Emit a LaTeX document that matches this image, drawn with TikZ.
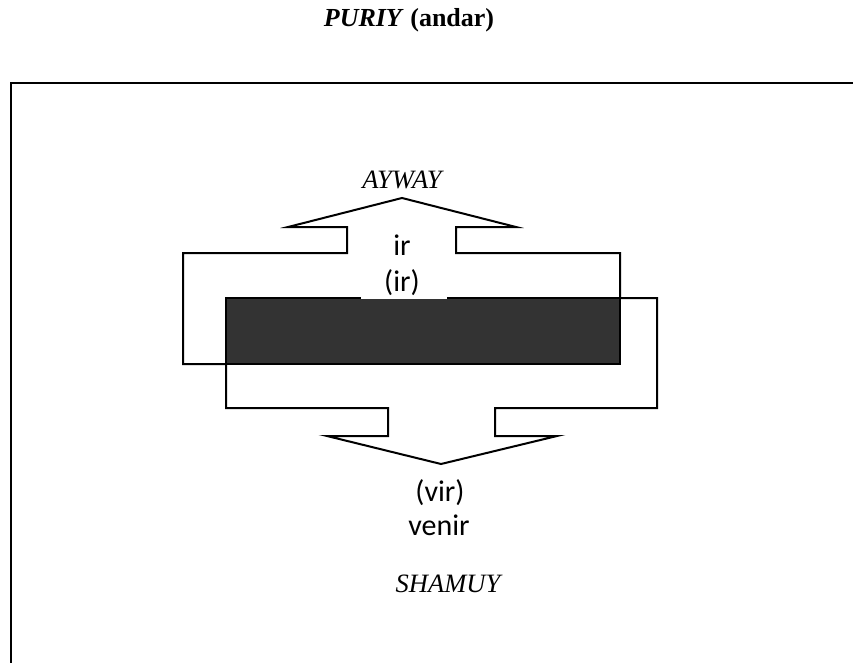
\documentclass[tikz,border=0pt]{standalone}
\usepackage{fontspec}
\setmainfont{Liberation Serif}
\newfontfamily\calib{Carlito}
\begin{document}
\begin{tikzpicture}[x=1pt,y=-1pt,
  outline/.style={line width=2pt,line join=miter},
  serlabel/.style={font=\fontsize{26.5}{30}\selectfont\itshape,inner sep=0pt},
  sanslabel/.style={font=\calib\fontsize{30}{34}\selectfont,inner sep=0pt,anchor=base},
  titlestyle/.style={font=\fontsize{26}{30}\selectfont\bfseries,inner sep=0pt,anchor=base}]
\clip (0,0) rectangle (853,663);
\fill[white] (0,0) rectangle (853,663);
% frame
\draw[line width=2.5pt] (11,700) -- (11,83) -- (900,83);
% upper arrow shape
\draw[outline] (620,298) -- (620,253) -- (456,253) -- (456,227) -- (516,227) -- (402,198)
  -- (288,227) -- (347,227) -- (347,253) -- (183,253) -- (183,364) -- (226,364);
% lower arrow shape
\draw[outline] (226,364) -- (226,408) -- (388,408) -- (388,436) -- (327,436) -- (441,464)
  -- (557,436) -- (495,436) -- (495,408) -- (657,408) -- (657,298) -- (620,298);
% dark bar
\draw[line width=2pt,fill={rgb,255:red,51;green,51;blue,51}] (226,298) rectangle (620,364);
% white gap where the label box covers the bar's top edge
\fill[white] (361,268) rectangle (447,299);
% texts
\node[titlestyle] (title) at (409,27) {\textit{PURIY} (andar)};
\node[serlabel] (ayway) at (402,180) {AYWAY};
\node[sanslabel] (ir) at (402,255) {ir};
\node[sanslabel] (ir2) at (402,291) {(ir)};
\node[sanslabel] (vir) at (440,501) {(vir)};
\node[sanslabel] (venir) at (439,535) {venir};
\node[serlabel] (shamuy) at (448,584) {SHAMUY};
\end{tikzpicture}
\end{document}
